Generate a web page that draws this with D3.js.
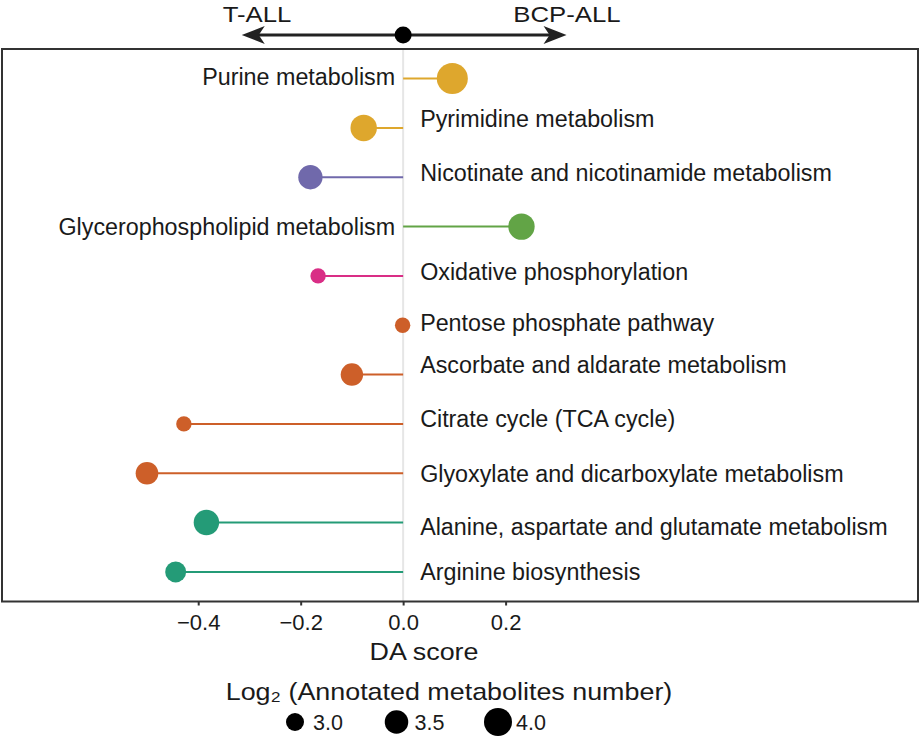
<!DOCTYPE html>
<html>
<head>
<meta charset="utf-8">
<script src="https://cdn.jsdelivr.net/npm/d3@7"></script>
<style>
	body { margin: 0; background: #fff; }
	text { font-family: "Liberation Sans", Arial, sans-serif; fill: #1a1a1a; }
</style>
</head>
<body>
<svg id="chart" width="920" height="736"></svg>
<script>
// data
var pathways = [
	'Purine metabolism',
	'Pyrimidine metabolism',
	'Nicotinate and nicotinamide metabolism',
	'Glycerophospholipid metabolism',
	'Oxidative phosphorylation',
	'Pentose phosphate pathway',
	'Ascorbate and aldarate metabolism',
	'Citrate cycle (TCA cycle)',
	'Glyoxylate and dicarboxylate metabolism',
	'Alanine, aspartate and glutamate metabolism',
	'Arginine biosynthesis'
];
var daScore = [0.096, -0.077, -0.181, 0.231, -0.166, -0.001, -0.100, -0.428, -0.500, -0.384, -0.444];
var log2Count = [4.39, 3.81, 3.58, 3.81, 2.81, 2.81, 3.39, 2.81, 3.41, 3.70, 3.25];
var pathwayColor = ['#dea72d', '#dea72d', '#7069ab', '#62a446', '#d92e86', '#cd5f29', '#cd5f29', '#cd5f29', '#cd5f29', '#249b77', '#249b77'];
var xTicks = [-0.4, -0.2, 0.0, 0.2];
var sizeBreaks = [3.0, 3.5, 4.0];
var groups = ['T-ALL', 'BCP-ALL'];

// small vertical shifts of the labels (they were repelled in the original)
var labelNudge = [-2, -9, -5, 0, -4, -3, -10, -5, 0, 4, 0];

var svg = d3.select('#chart');
var panel = { left: 2, top: 49, right: 918, bottom: 601.5 };

var x = d3.scaleLinear().domain([-0.783, 1.005]).range([panel.left, panel.right]);
var y = d3.scalePoint().domain(pathways).range([panel.top, panel.bottom]).padding(0.6);
var r = d3.scaleRadial().domain([3, 4]).range([9, 14]);

var rows = pathways.map(function(p, i) {
	return { name: p, score: daScore[i], size: log2Count[i], color: pathwayColor[i], nudge: labelNudge[i] };
});

// zero line
svg.append('line')
	.attr('x1', x(0)).attr('x2', x(0))
	.attr('y1', panel.top).attr('y2', panel.bottom)
	.attr('stroke', '#e6e6e6').attr('stroke-width', 2);

var g = svg.append('g');

g.selectAll('line.seg').data(rows).enter().append('line')
	.attr('class', 'seg')
	.attr('x1', x(0))
	.attr('x2', function(d) { return x(d.score); })
	.attr('y1', function(d) { return y(d.name); })
	.attr('y2', function(d) { return y(d.name); })
	.attr('stroke', function(d) { return d.color; })
	.attr('stroke-width', 2);

g.selectAll('circle').data(rows).enter().append('circle')
	.attr('cx', function(d) { return x(d.score); })
	.attr('cy', function(d) { return y(d.name); })
	.attr('r', function(d) { return r(d.size); })
	.attr('fill', function(d) { return d.color; });

g.selectAll('text.lab').data(rows).enter().append('text')
	.attr('class', 'lab')
	.attr('x', function(d) { return d.score > 0 ? x(0) - 8 : x(0) + 17; })
	.attr('y', function(d) { return y(d.name) + d.nudge + 8.3; })
	.attr('text-anchor', function(d) { return d.score > 0 ? 'end' : 'start'; })
	.style('font-size', '23.3px')
	.text(function(d) { return d.name; });

// panel border
svg.append('rect')
	.attr('x', panel.left).attr('y', panel.top)
	.attr('width', panel.right - panel.left).attr('height', panel.bottom - panel.top)
	.attr('fill', 'none').attr('stroke', '#333').attr('stroke-width', 2);

// x axis
var axis = svg.append('g')
	.attr('transform', 'translate(0,' + panel.bottom + ')')
	.call(d3.axisBottom(x).tickValues(xTicks).tickSize(4).tickPadding(9).tickFormat(d3.format('.1f')));
axis.select('.domain').remove();
axis.selectAll('.tick line').attr('stroke', '#333').attr('stroke-width', 2);
axis.selectAll('.tick text')
	.style('font-family', '"Liberation Sans", Arial, sans-serif')
	.style('font-size', '22px').attr('fill', '#222');

function wideText(cx, by, size, str) {
	return svg.append('text')
		.attr('transform', 'translate(' + cx + ',' + by + ') scale(1.12,1)')
		.attr('text-anchor', 'middle')
		.style('font-size', size + 'px')
		.text(str);
}

wideText(424, 660, 24, 'DA score');
wideText(449, 700, 24, 'Log\u2082 (Annotated metabolites number)');

// group arrow on top
var arrowY = 35;
var arrowEnds = [-0.315, 0.319];
svg.append('line')
	.attr('x1', x(arrowEnds[0]) + 12).attr('x2', x(arrowEnds[1]) - 12)
	.attr('y1', arrowY).attr('y2', arrowY)
	.attr('stroke', '#222').attr('stroke-width', 3);
arrowEnds.forEach(function(v) {
	var tip = x(v), s = v < 0 ? 1 : -1;
	svg.append('path')
		.attr('d', 'M' + tip + ',' + arrowY +
			'L' + (tip + s * 23) + ',' + (arrowY - 9) +
			'L' + (tip + s * 17) + ',' + arrowY +
			'L' + (tip + s * 23) + ',' + (arrowY + 9) + 'Z')
		.attr('fill', '#222');
});
svg.append('circle').attr('cx', x(0)).attr('cy', arrowY).attr('r', 8.5).attr('fill', '#000');

wideText(257, 22, 23, groups[0]);
wideText(567, 22, 23, groups[1]);

// size legend
var lx = d3.scalePoint().domain(sizeBreaks).range([295, 498]);
var leg = svg.append('g').selectAll('g').data(sizeBreaks).enter().append('g')
	.attr('transform', function(d) { return 'translate(' + lx(d) + ',722)'; });
leg.append('circle').attr('r', function(d) { return r(d); }).attr('fill', '#000');
leg.append('text')
	.attr('x', 18).attr('y', 7.8)
	.style('font-size', '21.5px')
	.text(function(d) { return d3.format('.1f')(d); });
</script>
</body>
</html>
